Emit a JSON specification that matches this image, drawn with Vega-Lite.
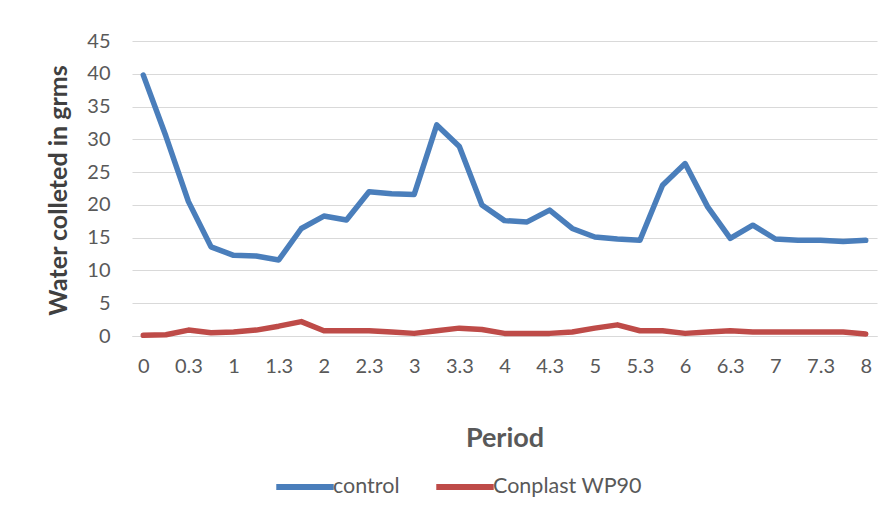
{
  "$schema": "https://vega.github.io/schema/vega-lite/v6.json",
  "autosize": {"type": "none"},
  "width": 745,
  "height": 295,
  "padding": {"left": 132, "top": 41, "right": 16, "bottom": 179},
  "background": "white",
  "config": {
    "font": "Lato",
    "view": {"stroke": null}
  },
  "data": {
    "values": [
      {"p": "0", "i": 0, "s": "control", "v": 39.8},
      {"p": "0.15", "i": 1, "s": "control", "v": 30.5},
      {"p": "0.3", "i": 2, "s": "control", "v": 20.5},
      {"p": "0.45", "i": 3, "s": "control", "v": 13.6},
      {"p": "1", "i": 4, "s": "control", "v": 12.3},
      {"p": "1.15", "i": 5, "s": "control", "v": 12.2},
      {"p": "1.3", "i": 6, "s": "control", "v": 11.6},
      {"p": "1.45", "i": 7, "s": "control", "v": 16.4},
      {"p": "2", "i": 8, "s": "control", "v": 18.3},
      {"p": "2.15", "i": 9, "s": "control", "v": 17.7},
      {"p": "2.3", "i": 10, "s": "control", "v": 22.0},
      {"p": "2.45", "i": 11, "s": "control", "v": 21.7},
      {"p": "3", "i": 12, "s": "control", "v": 21.6},
      {"p": "3.15", "i": 13, "s": "control", "v": 32.2},
      {"p": "3.3", "i": 14, "s": "control", "v": 28.9},
      {"p": "3.45", "i": 15, "s": "control", "v": 20.0},
      {"p": "4", "i": 16, "s": "control", "v": 17.6},
      {"p": "4.15", "i": 17, "s": "control", "v": 17.4},
      {"p": "4.3", "i": 18, "s": "control", "v": 19.2},
      {"p": "4.45", "i": 19, "s": "control", "v": 16.4},
      {"p": "5", "i": 20, "s": "control", "v": 15.1},
      {"p": "5.15", "i": 21, "s": "control", "v": 14.8},
      {"p": "5.3", "i": 22, "s": "control", "v": 14.6},
      {"p": "5.45", "i": 23, "s": "control", "v": 23.0},
      {"p": "6", "i": 24, "s": "control", "v": 26.3},
      {"p": "6.15", "i": 25, "s": "control", "v": 19.7},
      {"p": "6.3", "i": 26, "s": "control", "v": 14.9},
      {"p": "6.45", "i": 27, "s": "control", "v": 16.9},
      {"p": "7", "i": 28, "s": "control", "v": 14.8},
      {"p": "7.15", "i": 29, "s": "control", "v": 14.6},
      {"p": "7.3", "i": 30, "s": "control", "v": 14.6},
      {"p": "7.45", "i": 31, "s": "control", "v": 14.4},
      {"p": "8", "i": 32, "s": "control", "v": 14.6},
      {"p": "0", "i": 0, "s": "Conplast WP90", "v": 0.1},
      {"p": "0.15", "i": 1, "s": "Conplast WP90", "v": 0.2},
      {"p": "0.3", "i": 2, "s": "Conplast WP90", "v": 0.9},
      {"p": "0.45", "i": 3, "s": "Conplast WP90", "v": 0.5},
      {"p": "1", "i": 4, "s": "Conplast WP90", "v": 0.6},
      {"p": "1.15", "i": 5, "s": "Conplast WP90", "v": 0.9},
      {"p": "1.3", "i": 6, "s": "Conplast WP90", "v": 1.5},
      {"p": "1.45", "i": 7, "s": "Conplast WP90", "v": 2.2},
      {"p": "2", "i": 8, "s": "Conplast WP90", "v": 0.8},
      {"p": "2.15", "i": 9, "s": "Conplast WP90", "v": 0.8},
      {"p": "2.3", "i": 10, "s": "Conplast WP90", "v": 0.8},
      {"p": "2.45", "i": 11, "s": "Conplast WP90", "v": 0.6},
      {"p": "3", "i": 12, "s": "Conplast WP90", "v": 0.4},
      {"p": "3.15", "i": 13, "s": "Conplast WP90", "v": 0.8},
      {"p": "3.3", "i": 14, "s": "Conplast WP90", "v": 1.2},
      {"p": "3.45", "i": 15, "s": "Conplast WP90", "v": 1.0},
      {"p": "4", "i": 16, "s": "Conplast WP90", "v": 0.4},
      {"p": "4.15", "i": 17, "s": "Conplast WP90", "v": 0.4},
      {"p": "4.3", "i": 18, "s": "Conplast WP90", "v": 0.4},
      {"p": "4.45", "i": 19, "s": "Conplast WP90", "v": 0.6},
      {"p": "5", "i": 20, "s": "Conplast WP90", "v": 1.2},
      {"p": "5.15", "i": 21, "s": "Conplast WP90", "v": 1.7},
      {"p": "5.3", "i": 22, "s": "Conplast WP90", "v": 0.8},
      {"p": "5.45", "i": 23, "s": "Conplast WP90", "v": 0.8},
      {"p": "6", "i": 24, "s": "Conplast WP90", "v": 0.4},
      {"p": "6.15", "i": 25, "s": "Conplast WP90", "v": 0.6},
      {"p": "6.3", "i": 26, "s": "Conplast WP90", "v": 0.8},
      {"p": "6.45", "i": 27, "s": "Conplast WP90", "v": 0.6},
      {"p": "7", "i": 28, "s": "Conplast WP90", "v": 0.6},
      {"p": "7.15", "i": 29, "s": "Conplast WP90", "v": 0.6},
      {"p": "7.3", "i": 30, "s": "Conplast WP90", "v": 0.6},
      {"p": "7.45", "i": 31, "s": "Conplast WP90", "v": 0.6},
      {"p": "8", "i": 32, "s": "Conplast WP90", "v": 0.3}
    ]
  },
  "mark": {"type": "line", "strokeWidth": 5.5, "strokeJoin": "round", "strokeCap": "round"},
  "encoding": {
    "x": {
      "field": "p",
      "type": "ordinal",
      "sort": {"field": "i"},
      "scale": {"type": "point", "padding": 0.5},
      "axis": {
        "title": "Period",
        "titleFont": "Lato",
        "titleFontSize": 27,
        "titleFontWeight": "bold",
        "titleColor": "#595959",
        "titlePadding": 49,
        "labelAngle": 0,
        "labelFontSize": 20,
        "labelColor": "#595959",
        "labelPadding": 20,
        "ticks": false,
        "domain": true,
        "domainColor": "#d9d9d9",
        "grid": false,
        "values": ["0","0.3","1","1.3","2","2.3","3","3.3","4","4.3","5","5.3","6","6.3","7","7.3","8"]
      }
    },
    "y": {
      "field": "v",
      "type": "quantitative",
      "scale": {"domain": [0, 45]},
      "axis": {
        "title": "Water colleted in grms",
        "titleFontSize": 25,
        "titleFontWeight": "bold",
        "titleColor": "#404040",
        "titleX": -74,
        "titleY": 149,
        "titleAngle": -90,
        "titleAlign": "center",
        "titleBaseline": "middle",
        "values": [0, 5, 10, 15, 20, 25, 30, 35, 40, 45],
        "labelFontSize": 20,
        "labelColor": "#595959",
        "labelPadding": 22,
        "ticks": false,
        "domain": false,
        "grid": true,
        "gridColor": "#d9d9d9",
        "gridWidth": 1.2
      }
    },
    "color": {
      "field": "s",
      "type": "nominal",
      "sort": ["control", "Conplast WP90"],
      "scale": {"domain": ["control", "Conplast WP90"], "range": ["#4a7ebb", "#be4b48"]},
      "legend": {
        "title": null,
        "orient": "none",
        "legendX": 141,
        "legendY": 414,
        "direction": "horizontal",
        "symbolType": "stroke",
        "symbolSize": 3300,
        "symbolStrokeWidth": 6,
        "labelFontSize": 21.5,
        "labelColor": "#595959",
        "labelOffset": -4,
        "columnPadding": 24
      }
    }
  }
}
